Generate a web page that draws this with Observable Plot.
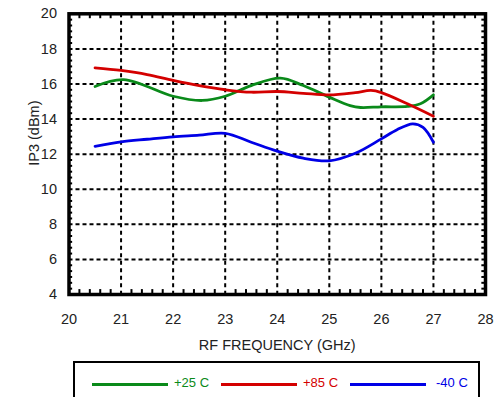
<!DOCTYPE html>
<html>
<head>
<meta charset="utf-8">
<script src="https://cdn.jsdelivr.net/npm/d3@7"></script>
<script src="https://cdn.jsdelivr.net/npm/@observablehq/plot@0.6"></script>
<style>
  html, body { margin: 0; padding: 0; background: #fff; overflow: hidden; }
  body { width: 495px; height: 397px; position: relative; font-family: "Liberation Sans", Arial, Helvetica, sans-serif; }
  #chart { position: absolute; left: 0; top: 0; }
  #legend { position: absolute; left: 73px; top: 361px; width: 403px; height: 60px; border: 2px solid #000; box-sizing: content-box; }
  .item { position: absolute; top: 20px; height: 3px; }
  .lab { position: absolute; top: 12px; font-size: 13px; line-height: 16px; white-space: nowrap; }
</style>
</head>
<body>
<div id="chart"></div>
<div id="legend"></div>
<script>
// IP3 vs RF frequency at three temperatures
const freq25 = [20.5, 21.05, 22.0, 22.56, 23.0, 23.5, 24.06, 24.5, 25.0, 25.4, 25.6, 26.0, 26.5, 26.75, 27.0];
const ip3_25 = [15.86, 16.25, 15.3, 15.06, 15.3, 15.91, 16.33, 15.91, 15.25, 14.77, 14.66, 14.7, 14.72, 14.87, 15.38];

const freq85 = [20.5, 21.0, 21.5, 22.0, 22.5, 23.0, 23.5, 24.0, 24.5, 25.0, 25.5, 25.8, 26.0, 26.5, 27.0];
const ip3_85 = [16.92, 16.77, 16.54, 16.2, 15.9, 15.67, 15.53, 15.57, 15.47, 15.38, 15.51, 15.63, 15.51, 14.87, 14.16];

const freqM40 = [20.5, 21.0, 21.5, 22.0, 22.5, 23.0, 23.5, 24.0, 24.5, 25.0, 25.5, 26.0, 26.3, 26.6, 26.8, 27.0];
const ip3_M40 = [12.45, 12.7, 12.85, 12.99, 13.08, 13.19, 12.68, 12.17, 11.77, 11.62, 12.05, 12.87, 13.39, 13.73, 13.53, 12.68];

const seriesNames = ["+25 C", "+85 C", "-40 C"];
const seriesColors = ["#0a8a1a", "#d40000", "#0000e6"];

const xTicks = [20, 21, 22, 23, 24, 25, 26, 27, 28];
const yTicks = [4, 6, 8, 10, 12, 14, 16, 18, 20];
const xGrid = [21, 22, 23, 24, 25, 26, 27];
const yGrid = [6, 8, 10, 12, 14, 16, 18];
const xMinor = d3.range(20.2, 28, 0.2).filter(v => Math.abs(v - Math.round(v)) > 1e-6);
const yMinor = d3.range(4, 20.001, 1 / 3).filter(v => Math.abs(v / 2 - Math.round(v / 2)) > 1e-6);

const rows = [
  ...freq25.map((f, i) => ({f, v: ip3_25[i], s: seriesNames[0]})),
  ...freq85.map((f, i) => ({f, v: ip3_85[i], s: seriesNames[1]})),
  ...freqM40.map((f, i) => ({f, v: ip3_M40[i], s: seriesNames[2]}))
];

const chart = Plot.plot({
  width: 495,
  height: 360,
  marginLeft: 68.5,
  marginRight: 10,
  marginTop: 13.3,
  marginBottom: 66,
  style: {fontFamily: '"Liberation Sans", Arial, Helvetica, sans-serif', fontSize: "14.5px", color: "#222", background: "#fff"},
  x: {domain: [20, 28]},
  y: {domain: [4, 20]},
  color: {domain: seriesNames, range: seriesColors},
  marks: [
    Plot.ruleX(xGrid, {stroke: "#000", strokeWidth: 2, strokeDasharray: "4,3.5"}),
    Plot.ruleY(yGrid, {stroke: "#000", strokeWidth: 2, strokeDasharray: "4,3"}),
    // inward minor ticks
    Plot.ruleX(xMinor, {y1: 4, y2: 4.28, stroke: "#000", strokeWidth: 2}),
    Plot.ruleX(xMinor, {y1: 19.72, y2: 20, stroke: "#000", strokeWidth: 2}),
    Plot.ruleY(yMinor, {x1: 20, x2: 20.07, stroke: "#000", strokeWidth: 2}),
    Plot.ruleY(yMinor, {x1: 27.93, x2: 28, stroke: "#000", strokeWidth: 2}),
    Plot.line(rows, {x: "f", y: "v", z: "s", stroke: "s", strokeWidth: 2.8, curve: "catmull-rom"}),
    Plot.frame({stroke: "#000", strokeWidth: 3.5}),
    Plot.axisX(xTicks, {tickSize: 0, tickPadding: 19, fontSize: 14.5, fill: "#222", label: null}),
    Plot.axisY(yTicks, {tickSize: 0, tickPadding: 12, fontSize: 14.5, fill: "#222", label: null}),
    Plot.text(["RF FREQUENCY (GHz)"], {frameAnchor: "bottom", dy: 55, fontSize: 14.5, fill: "#222"}),
    Plot.text(["IP3 (dBm)"], {frameAnchor: "left", textAnchor: "middle", rotate: -90, dx: -35, dy: -21, fontSize: 14.5, fill: "#222"})
  ]
});
document.getElementById("chart").appendChild(chart);

// legend: line swatch + coloured label per series
const legend = document.getElementById("legend");
const swatchLeft = [17, 146, 275];
const labelLeft = [99, 228, 361];
seriesNames.forEach((name, i) => {
  const sw = document.createElement("div");
  sw.className = "item";
  sw.style.left = swatchLeft[i] + "px";
  sw.style.width = "76px";
  sw.style.background = seriesColors[i];
  legend.appendChild(sw);
  const lb = document.createElement("div");
  lb.className = "lab";
  lb.style.left = labelLeft[i] + "px";
  lb.style.color = seriesColors[i];
  lb.textContent = name;
  legend.appendChild(lb);
});
</script>
</body>
</html>
